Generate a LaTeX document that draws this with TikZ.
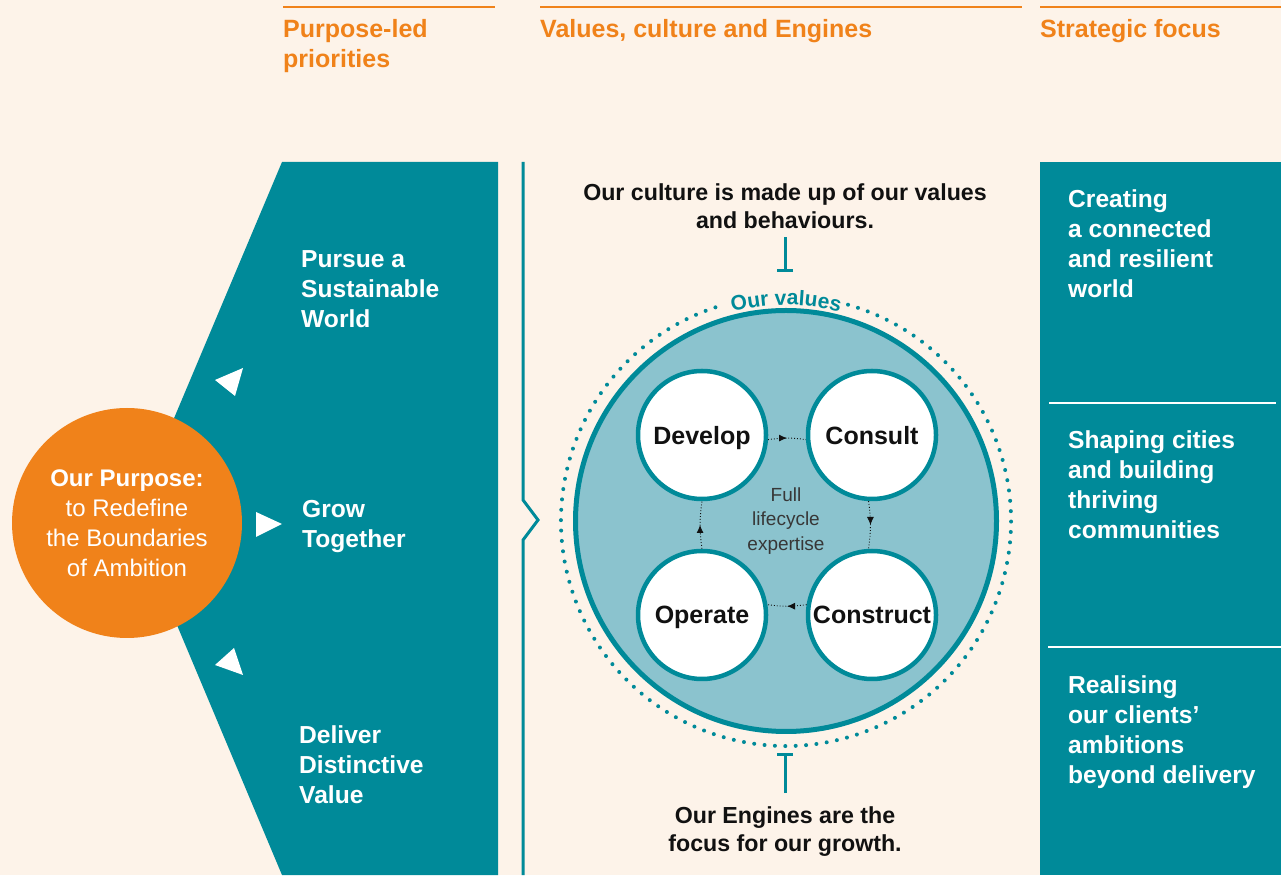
\documentclass[tikz,border=0pt]{standalone}
\usepackage{fontspec}
\setmainfont{Liberation Sans}
\usetikzlibrary{positioning,calc,arrows.meta,decorations.markings,decorations.text}
\definecolor{creamBg}{RGB}{253,243,233}
\definecolor{tealMain}{RGB}{0,138,153}
\definecolor{tealLight}{RGB}{139,195,206}
\definecolor{purposeOrange}{RGB}{240,130,26}
\definecolor{inkBlack}{RGB}{17,17,17}
\definecolor{hubGray}{RGB}{55,55,55}
\newcommand{\valuesFont}{\fontsize{21}{21}\selectfont\bfseries}

\begin{document}
\begin{tikzpicture}[x=1pt,y=1pt,
                heading/.style={anchor=north west,inner sep=0pt,align=left,text=purposeOrange,
                               font=\fontsize{25}{30}\selectfont\bfseries},
                priority/.style={anchor=north west,inner sep=0pt,align=left,text=white,
                               font=\fontsize{24.6}{30}\selectfont\bfseries},
                caption/.style={anchor=north,inner sep=0pt,align=center,text=inkBlack,
                               font=\fontsize{23.2}{28}\selectfont\bfseries},
                engine/.style={circle,draw=tealMain,line width=4.5pt,fill=white,minimum size=128pt,
                               inner sep=0pt,text=inkBlack,text depth=0pt,
                               font=\fontsize{25}{30}\selectfont\bfseries},
                cycleLink/.style={draw=inkBlack,line width=0.9pt,dash pattern=on 0.9pt off 2pt,
                               postaction={decorate,decoration={markings,
                               mark=at position 0.5 with {\arrow{Latex[length=8pt,width=7pt]}}}}},
                tBar/.style={draw=tealMain,line width=3pt,-{Bar[width=16pt]}}
            ]
                \useasboundingbox[fill=creamBg] (0,0) rectangle (1281,875);

                \draw[purposeOrange,line width=2pt] (283,868) -- (495,868);
                \draw[purposeOrange,line width=2pt] (540,868) -- (1022,868);
                \draw[purposeOrange,line width=2pt] (1040,868) -- (1281,868);
                \node[heading] (hPriorities) at (283,856) {Purpose-led\\priorities};
                \node[heading] (hValues) at (540,856) {Values, culture and Engines};
                \node[heading] (hFocus) at (1040,856) {Strategic focus};

                \fill[tealMain] (282,713) -- (498,713) -- (498,0) -- (282,0) -- (132,357) -- cycle;
                \node[circle,fill=purposeOrange,minimum size=230pt,inner sep=0pt,align=center,
                      text=white,font=\fontsize{24}{30}\selectfont] (purpose) at (127,352) {
                    \textbf{Our Purpose:}\\to Redefine\\the Boundaries\\of Ambition
                };
                \fill[white] (215,495) -- (243,507) -- (235,479) -- cycle;
                \fill[white] (256,363) -- (256,338) -- (282,351) -- cycle;
                \fill[white] (215,210) -- (234,227) -- (243,200) -- cycle;
                \node[priority] (pursue) at (301,625) {Pursue a\\Sustainable\\World};
                \node[priority] (grow) at (302,375) {Grow\\Together};
                \node[priority] (deliver) at (299,150) {Deliver\\Distinctive\\Value};

                \draw[tealMain,line width=3pt] (523,713) -- (523,375) -- (538,355) -- (523,335) -- (523,0);

                \fill[tealMain] (1040,0) rectangle (1281,713);
                \draw[white,line width=2pt] (1049,472) -- (1276,472);
                \draw[white,line width=2pt] (1048,228) -- (1281,228);
                \node[priority] (connected) at (1068,686) {Creating\\a connected\\and resilient\\world};
                \node[priority] (cities) at (1068,445) {Shaping cities\\and building\\thriving\\communities};
                \node[priority] (clients) at (1068,200) {Realising\\our clients’\\ambitions\\beyond delivery};

                \draw[tealMain,line width=4pt,dash pattern=on 0pt off 10.4pt,line cap=round]
                    (786,354) ++(74:225) arc[start angle=74,end angle=-254,radius=225];
                \node[circle,draw=tealMain,fill=tealLight,line width=5pt,minimum size=421pt,inner sep=0pt,
                      align=center,text=hubGray,font=\fontsize{19}{24.5}\selectfont] (values) at (786,354) {
                    Full\\lifecycle\\expertise
                };
                \path[decorate,decoration={text along path,text align=center,text color=tealMain,
                      text={|\valuesFont|Our values}}]
                    (786,354) ++(110:216) arc[start angle=110,end angle=70,radius=216];

                \node[engine] (develop) at (702,440) {Develop};
                \node[engine] (consult) at (872,440) {Consult};
                \node[engine] (operate) at (702,260) {Operate};
                \node[engine] (construct) at (872,260) {Construct};
                \draw[cycleLink] (develop.-4) to[bend left=8] (consult.184);
                \draw[cycleLink] (consult.-93) to[bend left=8] (construct.93);
                \draw[cycleLink] (construct.171) to[bend left=8] (operate.9);
                \draw[cycleLink] (operate.90) to[bend left=8] (develop.-90);

                \node[caption] (culture) at (785,692) {Our culture is made up of our values\\and behaviours.};
                \coordinate (cultureEnd) at (785,603);
                \draw[tBar,shorten <=9pt] (culture) -- (cultureEnd);
                \node[caption] (enginesNote) at (785,69) {Our Engines are the\\focus for our growth.};
                \coordinate (enginesEnd) at (785,122);
                \draw[tBar,shorten <=13pt] (enginesNote) -- (enginesEnd);
            \end{tikzpicture}
\end{document}
